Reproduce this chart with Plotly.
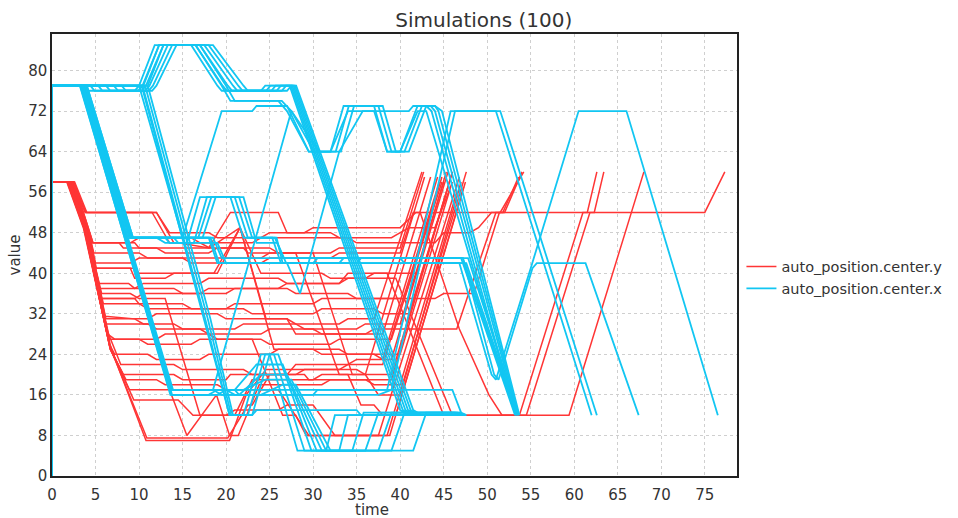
import plotly.graph_objects as go

TITLE = "Simulations (100)"
X_LABEL = "time"
Y_LABEL = "value"
RED_NAME = "auto_position.center.y"
CYAN_NAME = "auto_position.center.x"
X_TICKS = [0, 5, 10, 15, 20, 25, 30, 35, 40, 45, 50, 55, 60, 65, 70, 75]
Y_TICKS = [0, 8, 16, 24, 32, 40, 48, 56, 64, 72, 80]

RED_START = [(0, 0), (0, 58)]
CYAN_START = [(0, 0), (0, 77)]

RED_PATHS = [
    [(1.7,58),(3.6,49),(6.6,26),(10.8,7),(20.4,7),(22.3,16),(24.6,21),(33,21),(34,22),(38,22),(44.5,58)],
    [(1.8,58),(3.7,49),(6.7,25),(8.9,17),(13.5,17),(15.5,8),(18.9,16),(20.4,8),(21.4,8),(23.8,18),(31,18),(32,19),(39,19),(46,60)],
    [(1.9,58),(3.8,49),(6.8,25),(9.4,15),(14.5,15),(16.2,12),(21,12),(23,19),(30,19),(31,20),(36,20),(42.8,59)],
    [(1.8,58),(3.7,49),(6.7,25),(8.5,19),(12,19),(13,18),(19,18),(20,17),(26,17),(29.5,8),(38.5,8),(47.6,60)],
    [(2.0,58),(3.8,49),(6.5,28),(7.9,22),(14,22),(15,21),(22,21),(23,20),(29,20),(29.5,19),(36,19),(37,18),(40,18),(46.5,56)],
    [(1.9,58),(3.7,49),(6.6,26),(7.2,24),(11,24),(12,23),(17,23),(18,24),(25,24),(26,25),(33,25),(34,24),(40,24),(45.8,57)],
    [(2.0,58),(3.8,49),(6.2,30),(6.6,27),(10,27),(11,26),(16,26),(17,27),(24,27),(25,26),(32,26),(33,27),(39,27),(44.8,58)],
    [(2.1,58),(3.9,49),(6.1,31.5),(9.5,31),(10.5,30),(14,30),(15,29),(21,29),(22,30),(28,30),(29,29),(35,29),(36,30),(40,30),(45,58)],
    [(2.0,58),(3.8,49),(5.6,35),(9.5,35),(10,34),(15,34),(16,33),(22,33),(23,32),(30,32),(31,33),(37,33),(38,32),(41,32),(45.5,57)],
    [(2.1,58),(3.9,49),(5.4,38),(8.8,38),(9.5,37),(14,37),(15,36),(20,36),(21,37),(27,37),(28,36),(34,36),(35,35),(40.5,35),(44.8,59)],
    [(2.2,58),(4.0,49),(5.0,41),(9,41),(9.5,39),(13,39),(14,40),(18.6,40),(21.6,49),(24,40),(31,40),(32,39),(36,39),(37,40),(42,40),(45.5,60)],
    [(2.4,58),(4.1,49),(4.6,46),(7.7,46),(8.2,45),(12,45),(13,44),(18,44),(19,45),(25,45),(26,44),(32,44),(33,45),(40,45),(42.7,60)],
    [(2.4,58),(3.8,52),(12,52),(13.5,48),(18,48),(19,47),(24,47),(25,48),(29,48),(30,49),(40,49),(41.8,52),(75,52),(77.3,60)],
    [(2.5,58),(3.9,52),(12,52),(14,46),(17,46),(18.1,45),(21.6,49),(24.6,31),(27,31),(28,30),(33,30),(34,31),(37,31),(42.5,60)],
    [(2.2,58),(4.0,49),(5.1,41),(9.5,41),(10,40),(16,40),(19,40),(21.6,49),(25.5,25),(30,25),(31,24),(37,24),(38,23),(39,23),(45.3,60)],
    [(2.1,58),(3.9,49),(5.7,36),(9,36),(10,35),(13,35),(17,12),(20,12),(21,13),(26,13),(27,14),(30,14),(32.5,8),(38.8,8),(47.5,58)],
    [(1.9,58),(3.7,49),(6.4,28),(7.2,27),(12,27),(13,28),(18,28),(19,27),(23,27),(26.5,12),(28,12),(29.2,8),(37.5,8),(46.8,59)],
    [(2.0,58),(3.8,49),(5.9,34),(10,34),(11,33),(20,33),(21,34),(30,34),(31,35),(44,35),(45,36),(48.5,36),(51.4,52),(52,52),(54,60)],
    [(2.1,58),(3.9,49),(6.2,31),(11,31),(12,32),(19,32),(20,31),(27,31),(28,28),(36,28),(37,29),(46.5,29),(51,52),(51.8,52),(53.6,59)],
    [(2.5,58),(4.2,49),(4.7,46),(9,46),(10,47),(16,47),(17,46),(23,46),(24,47),(34,47),(35,46),(44,46),(45,48),(48,48),(49,49),(50.5,52),(51.5,52),(54.2,60)],
    [(2.3,58),(4.1,49),(5.0,42),(9,42),(10,43),(15,43),(16,42),(24,42),(25,43),(32,43),(33,44),(40,44),(41.5,52),(42.3,52),(46.8,29),(50.2,16),(51.7,12),(59.4,12),(68,60)],
    [(2.1,58),(3.9,49),(5.5,37),(9.5,37),(10.5,38),(17,38),(18,39),(26,39),(27,38),(33,38),(34,40),(38.5,40),(45,12),(53.7,12),(61,52),(61.5,52),(62.6,60)],
    [(2.1,58),(3.9,49),(5.7,35),(9.5,35),(10.5,36),(17,36),(18,37),(26,37),(27,38),(33,38),(34,39),(39.5,39),(46,12),(54.5,12),(61.8,52),(62.3,52),(63.4,60)],
    [(2.6,58),(4.0,52),(11.5,52),(13.5,46),(14.5,46),(18,45),(20.5,52),(26,52),(27,48),(32,48),(33,47),(39,47),(41,49),(44,49),(46,58)],
    [(1.75,58),(3.65,49),(6.65,25.5),(10.9,7.5),(20.2,7.5),(22.5,14),(23,14),(25,20),(28,20),(29,21),(35,21),(36,20),(39,20),(46,60)],
    [(1.9,58),(3.7,49),(6.7,25),(8.2,20),(14,20),(15,19),(20,19),(20.5,20),(27,20),(28,22),(34,22),(35,23),(38,23),(44.3,59)],
    [(2.0,58),(3.8,49),(6.2,30),(11,30),(12,29),(17,29),(18,28),(24,28),(25,29),(30,29),(31,28),(38,28),(43.5,59)],
    [(2.3,58),(4.1,49),(4.8,44),(10,44),(11,43),(24,43),(25,44),(30,44),(34.5,20),(36,20),(37.5,16),(40,16),(47,58)],
    [(2.5,58),(4.2,49),(4.7,46),(9.5,46),(10,45),(22,45),(22.5,44),(28,44),(33,20),(34,20),(35.5,14),(37,14),(38,12),(39.5,12),(47.3,57)],
]

CYAN_PATHS = [
    [(3.2,77),(13.5,17),(21,17),(21.5,16),(30,16),(30.5,17),(46,17),(47,12.5)],
    [(3.6,77),(8.9,47),(13,47),(13.5,46),(15.5,46),(17,55),(20.5,55),(22,47),(25.8,47),(26.5,42),(35,42),(35.5,43),(47,43),(53.2,12)],
    [(10.0,77),(15,47),(19.5,72),(23,72),(23.5,73),(27,73),(29.5,64),(32,64),(34,72),(37,72),(38.5,64),(40,64),(42,72),(43,72),(53.4,12)],
    [(10.3,77),(15,47),(17.5,31),(20.4,12),(23,12),(23.5,13),(35,13),(35.5,12),(46,12),(47.5,12)],
    # top bump group
    [(3.5,77),(4,76),(9.5,76),(10,77),(11.8,85),(16,85),(19,77),(19.5,76),(24,76),(24.5,77),(27.3,77),(40,13),(41,12),(47,12)],
    [(4.4,77),(4.9,76),(9.9,76),(10.4,77),(12.3,85),(16.5,85),(19.6,77),(20.1,76),(24.6,76),(25.1,77),(27.45,77),(40.3,13),(41.3,12),(47.2,12)],
    [(5.3,77),(5.8,76),(10.3,76),(10.8,77),(12.8,85),(17,85),(20.2,77),(20.7,76),(25.2,76),(25.7,77),(27.6,77),(40.6,13),(41.6,12),(47.4,12)],
    [(6.2,77),(6.7,76),(10.7,76),(11.2,77),(13.3,85),(17.5,85),(20.8,77),(21.3,76),(25.8,76),(26.3,77),(27.75,77),(40.9,13),(41.9,12),(47.6,12)],
    [(7.1,77),(7.6,76),(11.1,76),(11.6,77),(13.8,85),(18,85),(21.4,77),(21.9,76),(26.4,76),(26.9,77),(27.9,77),(41.2,13),(42.2,12),(46.8,12)],
    [(8.0,77),(8.5,76),(11.5,76),(12,77),(14.3,85),(18.5,85),(22,77),(22.5,76),(27,76),(27.5,77),(28.05,77),(41.5,13),(42.5,12),(47,12)],
    # middle bump group
    [(3.7,77),(9.0,47),(14,47),(14.5,46),(16.3,46),(17.8,55),(21,55),(22.5,47),(25.3,47),(26.3,42),(30,42),(30.5,43),(47.2,43),(53.3,12)],
    [(3.8,77),(9.1,47),(16.8,47),(18.3,55),(21.5,55),(23,47),(25.6,47),(26.6,43),(40,43),(40.5,42),(47.4,42),(53.4,12)],
    [(3.9,77),(9.2,47),(17.3,47),(18.8,55),(22,55),(23.5,46),(25.9,46),(26.9,42),(47.6,42),(53.5,12)],
    [(4.0,77),(9.3,47),(18,47),(19,42),(33,42),(33.5,43),(47.8,43),(53.6,12)],
    # right side
    [(3.8,77),(9.1,47),(18.2,47),(19.2,42),(46.8,42),(50.5,20),(51,19),(55,41),(60.5,72),(66,72),(76.5,12)],
    [(4.0,77),(9.3,47),(18.5,47),(19.5,43),(47.2,43),(50.8,20),(51.3,19),(55.2,41),(55.7,42),(61.3,42),(67.4,12)],
    [(3.3,77),(13.6,17),(37,17),(38.5,17),(45.8,72),(51,72),(62,12)],
    [(3.4,77),(13.7,16),(37.5,16),(39,17),(46.3,72),(51.5,72),(62.6,12)],
    # 72 group
    [(10.5,77),(12.3,85),(16.5,85),(19.5,77),(20.5,74),(26,74),(27,72),(29.5,64),(32,64),(33.5,73),(37,73),(38.5,64),(40,64),(42,73),(43,73),(43.6,72),(53.3,12)],
    [(11,77),(12.8,85),(17,85),(20,77),(21,74),(26.4,74),(27.5,72),(30.1,64),(32.6,64),(34.1,73),(37.5,73),(39,64),(40.5,64),(42.5,73),(43.5,73),(44,72),(53.5,12)],
    [(3.5,77),(13.8,17),(18.5,17),(27.5,72),(30.7,64),(33.2,64),(34.7,73),(38,73),(39.5,64),(41,64),(43,73),(44,73),(44.4,72),(53.6,12)],
    [(3.6,77),(8.9,47),(12,47),(13,46),(19,46),(20,42),(27,42),(28.5,36),(33,64),(35.7,72),(41,72),(41.5,73),(44,73),(44.8,72),(53.7,12)],
    # bowl group
    [(10.4,77),(15.1,47),(17.6,31),(20.4,12),(22,12),(24,24),(25,24),(28.2,5),(31.5,5),(32.5,12),(46.5,12),(47,12)],
    [(10.7,77),(15.4,47),(17.9,31),(20.6,12),(22.5,12),(24.5,24),(25.5,24),(29,5),(33,5),(34,12),(46,12),(46.6,12)],
    [(11.0,77),(15.7,47),(18.2,31),(20.8,12),(23,12),(25,24),(26,24),(29.8,5),(34.5,5),(35.8,12.5),(46.2,12.5),(46.8,12)],
    [(3.25,77),(13.6,16),(18,16),(19,17),(21,17),(23.5,22),(26.5,22),(30.4,5),(36,5),(37.5,12.5),(46.4,12.5),(47.1,12)],
    [(3.35,77),(13.7,17),(18.5,17),(19.5,16),(21.5,16),(24,20),(27,20),(31,5),(37.5,5),(39,12.5),(46.6,12.5),(47.3,12)],
    [(3.45,77),(13.8,16),(19,16),(20,17),(22,17),(24.5,19),(27.5,19),(31.5,5),(39,5),(40.5,12.5),(46.8,12.5),(47.5,12)],
    [(3.55,77),(13.9,17),(20,17),(21,16),(24,16),(26.5,18),(28,18),(32,5),(41.5,5),(43,12.5),(47,12.5),(47.6,12)],
]

RED_COLOR = "#ff3535"
CYAN_COLOR = "#12c6f2"

fig = go.Figure()


def add_group(paths, start, color, name, width):
    for k, p in enumerate(paths):
        pts = start + p
        fig.add_trace(go.Scatter(
            x=[q[0] for q in pts], y=[q[1] for q in pts],
            mode="lines", line=dict(color=color, width=width),
            name=name, legendgroup=name, showlegend=(k == 0),
            hoverinfo="skip",
        ))


add_group(RED_PATHS, RED_START, RED_COLOR, RED_NAME, 1.5)
add_group(CYAN_PATHS, CYAN_START, CYAN_COLOR, CYAN_NAME, 1.8)

font_family = "DejaVu Sans"
fig.update_layout(
    width=958, height=518,
    margin=dict(l=52, r=220, t=34, b=42),
    paper_bgcolor="white", plot_bgcolor="white",
    font=dict(family=font_family, size=15, color="#333333"),
    title=dict(text=TITLE, x=0.505, xref="container", xanchor="center",
               y=1 - 20 / 518, yref="container", yanchor="middle",
               font=dict(size=20, color="#333333")),
    legend=dict(x=1.005, xanchor="left", y=0.51, yanchor="top",
                font=dict(size=14.5, color="#333333"), bgcolor="rgba(0,0,0,0)",
                tracegroupgap=0, itemwidth=30),
    showlegend=True,
    annotations=[dict(text=X_LABEL, xref="paper", yref="paper",
                      x=(372 - 52) / 686, y=-(510 - 476) / 442,
                      xanchor="center", yanchor="middle", showarrow=False,
                      font=dict(size=15, color="#333333"))],
)
fig.update_xaxes(range=[0, 78.7], tickvals=X_TICKS, ticktext=[str(v) for v in X_TICKS],
                 showgrid=True, gridcolor="#cfcfcf", griddash="3px,3px", gridwidth=1,
                 showline=True, linecolor="#222222", linewidth=1.5, mirror=True,
                 zeroline=False, ticks="", automargin=False, ticklabelstandoff=4)
fig.update_yaxes(range=[0, 87.2], tickvals=Y_TICKS, ticktext=[str(v) for v in Y_TICKS],
                 showgrid=True, gridcolor="#cfcfcf", griddash="3px,3px", gridwidth=1,
                 showline=True, linecolor="#222222", linewidth=1.5, mirror=True,
                 zeroline=False, ticks="", automargin=False,
                 title=dict(text=Y_LABEL, standoff=4, font=dict(size=15)))

fig.write_html("out.html")
